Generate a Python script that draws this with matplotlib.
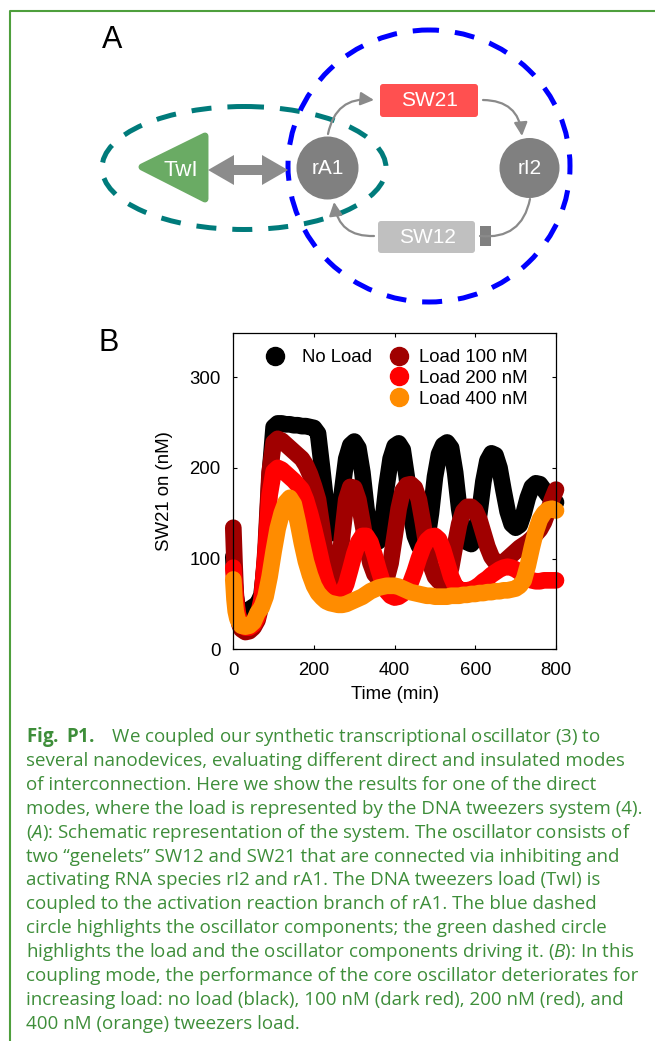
import numpy as np
import matplotlib
matplotlib.use("Agg")
import matplotlib.pyplot as plt
from matplotlib.patches import Ellipse, FancyBboxPatch, Polygon, FancyArrowPatch, Rectangle
from matplotlib.lines import Line2D

plt.rcParams['font.family'] = ['Liberation Sans', 'DejaVu Sans']
plt.rcParams['mathtext.fontset'] = 'custom'
plt.rcParams['mathtext.rm'] = 'Open Sans'
plt.rcParams['mathtext.it'] = 'Open Sans:italic'
plt.rcParams['mathtext.bf'] = 'Open Sans:bold'

# ---- data (panel B), SW21 on (nM) vs time (min) ----
time_min = [0, 3, 6, 10, 15,
            20, 30, 40, 50, 60, 70, 80, 90,
            100, 110, 120, 130, 140, 150, 160, 170, 180, 190,
            200, 210, 220, 230, 240, 250, 260, 270, 280, 290,
            300, 310, 320, 330, 340, 350, 360, 370, 380, 390,
            400, 410, 420, 430, 440, 450, 460, 470, 480, 490,
            500, 510, 520, 530, 540, 550, 560, 570, 580, 590,
            600, 610, 620, 630, 640, 650, 660, 670, 680, 690,
            700, 710, 720, 730, 740, 750, 760, 770, 780, 790,
            800]

no_load = [102, 75, 58, 48, 43,
           41, 41, 44, 47, 50, 60, 100, 190,
           245, 249, 249, 248, 248, 247, 247, 246, 246, 245,
           244, 238, 200, 160, 133, 128, 140, 175, 210, 225,
           229, 222, 195, 155, 128, 118, 119, 140, 180, 210,
           224, 227, 220, 190, 150, 125, 114, 112, 120, 150,
           190, 215, 225, 228, 222, 195, 155, 128, 118, 116,
           122, 150, 185, 208, 216, 214, 200, 175, 152, 138,
           134, 137, 150, 167, 179, 183, 182, 176, 170, 166,
           162]

load_100 = [134, 95, 62, 42, 28,
            22, 19, 20, 24, 32, 50, 110, 195,
            228, 232, 230, 226, 222, 218, 214, 210, 203, 193,
            180, 165, 135, 100, 75, 68, 85, 125, 165, 179,
            178, 165, 140, 115, 95, 83, 78, 76, 78, 95,
            125, 155, 175, 181, 182, 178, 165, 140, 112, 92,
            80, 75, 73, 76, 90, 115, 138, 152, 157, 157,
            153, 143, 128, 113, 102, 96, 95, 96, 100, 104,
            108, 112, 115, 118, 122, 127, 132, 140, 152, 165,
            176]

load_200 = [90, 72, 55, 42, 32,
            27, 24, 24, 27, 35, 55, 105, 170,
            196, 200, 198, 194, 190, 186, 181, 176, 165, 150,
            133, 114, 94, 77, 64, 58, 58, 62, 72, 88,
            105, 118, 125, 125, 118, 104, 88, 74, 64, 59,
            57, 58, 61, 66, 74, 86, 100, 112, 120, 124,
            125, 121, 110, 95, 80, 70, 66, 65, 65, 66,
            68, 71, 75, 78, 82, 85, 88, 90, 91, 90,
            88, 85, 81, 78, 76, 75, 75, 76, 76, 76,
            76]

load_400 = [77, 55, 42, 34, 29,
            26, 25, 26, 30, 40, 46, 58, 80,
            108, 133, 150, 162, 167, 160, 140, 117, 97, 82,
            70, 62, 57, 53, 51, 50, 49, 49, 50, 52,
            54, 56, 58, 61, 64, 66, 68, 69, 70, 70,
            70, 69, 67, 65, 63, 62, 61, 60, 59, 59,
            58, 58, 58, 58, 59, 59, 59, 60, 60, 61,
            61, 62, 62, 63, 63, 64, 64, 65, 65, 66,
            67, 70, 76, 92, 112, 130, 143, 150, 154, 155,
            153]

series_labels = ["No Load", "Load 100 nM", "Load 200 nM", "Load 400 nM"]
series_colors = ["#000000", "#a00000", "#ff0000", "#ff8c00"]
x_ticks = [0, 200, 400, 600, 800]
y_ticks = [0, 100, 200, 300]

caption_lines = [
    r"$\mathbf{Fig.}$ $\mathbf{P1.}$   We coupled our synthetic transcriptional oscillator (3) to",
    "several nanodevices, evaluating different direct and insulated modes",
    "of interconnection. Here we show the results for one of the direct",
    "modes, where the load is represented by the DNA tweezers system (4).",
    r"($\mathit{A}$): Schematic representation of the system. The oscillator consists of",
    "two \u201cgenelets\u201d SW12 and SW21 that are connected via inhibiting and",
    "activating RNA species rI2 and rA1. The DNA tweezers load (TwI) is",
    "coupled to the activation reaction branch of rA1. The blue dashed",
    "circle highlights the oscillator components; the green dashed circle",
    r"highlights the load and the oscillator components driving it. ($\mathit{B}$): In this",
    "coupling mode, the performance of the core oscillator deteriorates for",
    "increasing load: no load (black), 100 nM (dark red), 200 nM (red), and",
    "400 nM (orange) tweezers load.",
]

W, H = 655, 1041
fig = plt.figure(figsize=(W / 100, H / 100), dpi=100)

# background axes in pixel units for the frame, schematic and caption
bg = fig.add_axes([0, 0, 1, 1])
bg.set_xlim(0, W)
bg.set_ylim(H, 0)
bg.axis('off')

frame_green = "#4e9f3d"
bg.plot([10, 10, W], [H, 11, 11], color=frame_green, lw=1.5, solid_capstyle='butt')

# ---- panel A: schematic ----
bg.text(112, 40, "A", fontsize=22, ha='center', va='center')
bg.text(109, 343, "B", fontsize=22, ha='center', va='center')

gray_node = "#808080"
arrow_gray = "#8a8a8a"

bg.add_patch(Ellipse((244, 168), 284, 123, fill=False, ec="#007b7b", lw=3.6,
                     linestyle=(0, (4.0, 3.2))))
bg.add_patch(Ellipse((429, 166), 282, 272, fill=False, ec="#0000ff", lw=3.6,
                     linestyle=(2, (4.0, 3.2))))

# TwI triangle
bg.add_patch(Polygon([(142, 167), (205, 136), (205, 199)], closed=True,
                     fc="#6aab64", ec="#6aab64", lw=5, joinstyle='round'))
bg.text(181, 170, "TwI", color="white", fontsize=16, ha='center', va='center')

# double arrow TwI <-> rA1
bg.add_patch(Polygon([(208, 170), (234, 155), (234, 165), (262, 165), (262, 155),
                      (288, 170), (262, 185), (262, 175), (234, 175), (234, 185)],
                     closed=True, fc="#8c8c8c", ec="none"))

# nodes
bg.add_patch(Ellipse((327.5, 168), 62, 63, fc=gray_node, ec="none"))
bg.text(327.5, 168, "rA1", color="white", fontsize=15, ha='center', va='center')
bg.add_patch(Ellipse((529.5, 168), 60, 60, fc=gray_node, ec="none"))
bg.text(529.5, 168, "rI2", color="white", fontsize=15, ha='center', va='center')

bg.add_patch(FancyBboxPatch((383, 87), 92, 27, boxstyle="round,pad=3",
                            fc="#ff5050", ec="none"))
bg.text(429, 101, "SW21", color="white", fontsize=15, ha='center', va='center')
bg.add_patch(FancyBboxPatch((381, 224), 91, 26, boxstyle="round,pad=3",
                            fc="#c0c0c0", ec="none"))
bg.text(427, 237.5, "SW12", color="white", fontsize=15, ha='center', va='center')
bg.add_patch(Rectangle((480, 226), 11, 20, fc=gray_node, ec="none"))

arr_kw = dict(connectionstyle="arc3,rad=-0.45", color=arrow_gray, lw=1.6,
              mutation_scale=10, shrinkA=0, shrinkB=0)
bg.add_patch(FancyArrowPatch((328, 134), (374, 100),
                             arrowstyle="-|>,head_length=0.8,head_width=0.4", **arr_kw))
bg.add_patch(FancyArrowPatch((483, 100), (522, 136),
                             arrowstyle="-|>,head_length=0.8,head_width=0.4", **arr_kw))
bg.add_patch(FancyArrowPatch((530, 199), (480, 236), arrowstyle="-", **arr_kw))
bg.add_patch(FancyArrowPatch((374, 236), (334, 202),
                             arrowstyle="-|>,head_length=0.8,head_width=0.4", **arr_kw))

# ---- caption ----
cap_color = "#3e8e3a"
for i, line in enumerate(caption_lines):
    bg.text(26, 737 + i * 23.9, line, fontsize=13.5, color=cap_color,
            family='Open Sans', ha='left', va='center')

# ---- panel B: time course ----
ax = fig.add_axes([233.3 / W, 1 - 649.3 / H, 322.7 / W, 316.6 / H])
all_series = [no_load, load_100, load_200, load_400]
for vals, col in zip(all_series, series_colors):
    ax.plot(time_min, vals, color=col, lw=12, solid_capstyle='round',
            solid_joinstyle='round', clip_on=False)

ax.set_xlim(0, 800)
ax.set_ylim(0, 349)
ax.set_xticks(x_ticks)
ax.set_yticks(y_ticks)
ax.tick_params(direction='in', length=3, width=0.8, top=True, right=True,
               labelsize=13.4, pad=9)
for sp in ax.spines.values():
    sp.set_linewidth(0.9)
ax.set_xlabel("Time (min)", fontsize=13.4, labelpad=5)
ax.set_ylabel("SW21 on (nM)", fontsize=13.4, labelpad=12)

handles = [Line2D([], [], ls='none', marker='o', ms=13, color=c, mec=c)
           for c in series_colors]
leg1 = fig.legend(handles[:1], series_labels[:1], loc='upper left',
                  bbox_to_anchor=(265.5 / W, 1 - 349 / H), frameon=False,
                  fontsize=13.4, handlelength=1.0, handletextpad=0.95,
                  borderpad=0, borderaxespad=0)
leg2 = fig.legend(handles[1:], series_labels[1:], loc='upper left',
                  bbox_to_anchor=(390 / W, 1 - 349 / H), frameon=False,
                  fontsize=13.4, handlelength=1.0, handletextpad=0.58,
                  labelspacing=0.2, borderpad=0, borderaxespad=0)

fig.savefig("out.png", dpi=100)
